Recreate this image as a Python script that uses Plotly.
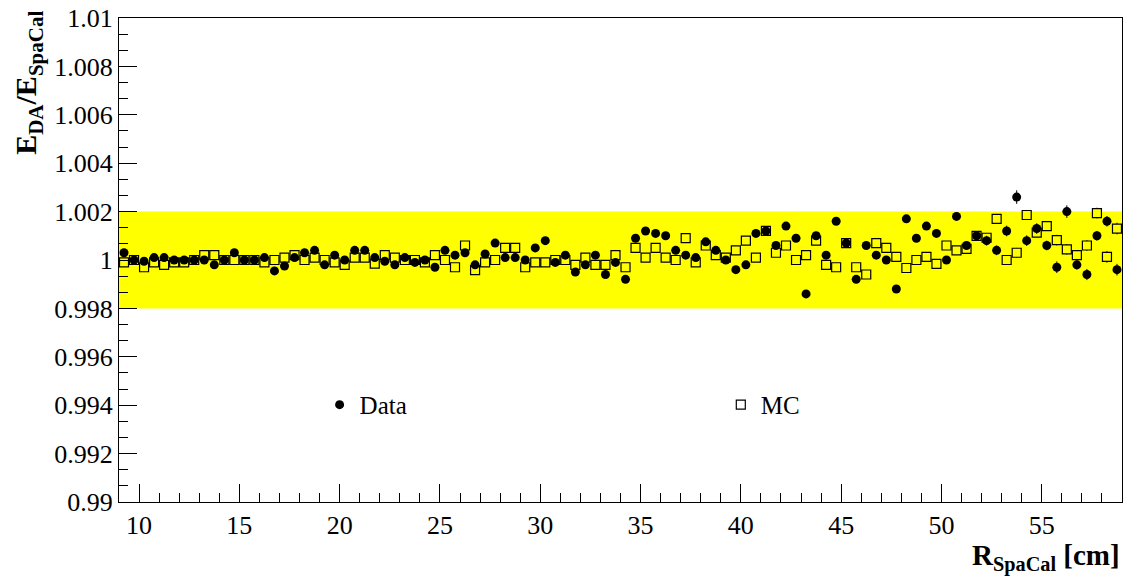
import plotly.graph_objects as go

# ---------------- data ----------------
r_centers = [9.25 + 0.5 * i for i in range(100)]  # bin centres [cm], 0.5 cm bins from 9 to 59

data_ratio = [
    1.0003, 1.0000, 0.99995, 1.0001, 1.0001, 1.0000, 1.0000, 1.0000, 1.0000, 0.9998,
    1.0000, 1.0003, 1.0000, 1.0000, 1.0001, 0.99955, 0.99975, 1.0001, 1.0003, 1.0004,
    0.9998, 1.0002, 1.0000, 1.0004, 1.0004, 1.0001, 0.99995, 0.9998, 1.0001, 0.9999,
    1.0000, 0.9997, 1.0004, 1.0002, 1.0003, 0.9998, 1.00025, 1.0007, 1.0001, 1.0001,
    1.0000, 1.0005, 1.0008, 0.9999, 1.0002, 0.9995, 0.9998, 1.0002, 0.9994, 0.9999,
    0.9992, 1.0009, 1.0012, 1.0011, 1.0010, 1.0004, 1.0002, 1.0001, 1.00075, 1.0004,
    1.0000, 0.9996, 0.9998, 1.0011, 1.0012, 1.0006, 1.0014, 1.0009, 0.9986, 1.0010,
    1.0002, 1.0016, 1.0007, 0.9992, 1.0006, 1.0002, 1.0000, 0.9988, 1.0017, 1.0009,
    1.0014, 1.0011, 1.0000, 1.0018, 1.0006, 1.0010, 1.0008, 1.0004, 1.0012, 1.0026,
    1.0008, 1.0013, 1.0006, 0.9997, 1.0020, 0.9998, 0.9994, 1.0010, 1.0016, 0.9996,
]

mc_ratio = [
    0.9999, 1.0000, 0.9997, 0.9999, 0.9998, 0.9999, 0.9999, 1.0000, 1.0002, 1.0002,
    1.0000, 1.0000, 1.0000, 1.0000, 0.9999, 1.0000, 1.0001, 1.0002, 1.0000, 1.0001,
    1.0000, 0.9999, 0.9998, 1.0001, 1.0001, 0.99985, 1.0002, 1.0001, 1.0000, 1.0000,
    0.9999, 1.0002, 1.0000, 0.9997, 1.0006, 0.99958, 0.9999, 1.0000, 1.0005, 1.0005,
    0.9997, 0.9999, 0.9999, 1.0000, 1.0000, 0.9998, 1.0001, 0.9998, 0.9998, 1.0002,
    0.9997, 1.0005, 1.0001, 1.0005, 1.0001, 1.0000, 1.0009, 0.9999, 1.0006, 1.0002,
    1.0001, 1.0004, 1.0008, 1.0001, 1.0012, 1.0003, 1.0006, 1.0000, 1.0002, 1.0008,
    0.9998, 0.9997, 1.0007, 0.9997, 0.9994, 1.0007, 1.0005, 1.00013, 0.99967, 1.0000,
    1.00013, 0.99984, 1.0006, 1.0004, 1.00046, 1.0010, 1.00092, 1.0017, 1.0000, 1.0003,
    1.00186, 1.00113, 1.0014, 1.00082, 1.00044, 1.0002, 1.0006, 1.00194, 1.00013, 1.0013,
]

data_err = ([0.00006] * 50 + [0.00010] * 20 + [0.00015] * 15 +
            [0.00018, 0.00020, 0.00020, 0.00022, 0.00028, 0.00022, 0.00022, 0.00020,
             0.00024, 0.00026, 0.00020, 0.00023, 0.00020, 0.00022, 0.00024])
mc_err = ([0.00005] * 50 + [0.00008] * 20 + [0.00012] * 15 +
          [0.00015, 0.00016, 0.00018, 0.00018, 0.00020, 0.00020, 0.00020, 0.00020,
           0.00022, 0.00022, 0.00020, 0.00022, 0.00022, 0.00024, 0.00024])

band_low, band_high = 0.998, 1.002
x_range = [9, 59]
y_range = [0.99, 1.01]
x_tickvals = [10, 15, 20, 25, 30, 35, 40, 45, 50, 55]
x_ticklabels = ["10", "15", "20", "25", "30", "35", "40", "45", "50", "55"]
y_tickvals = [0.99, 0.992, 0.994, 0.996, 0.998, 1.0, 1.002, 1.004, 1.006, 1.008, 1.01]
y_ticklabels = ["0.99", "0.992", "0.994", "0.996", "0.998", "1",
                "1.002", "1.004", "1.006", "1.008", "1.01"]

FONT = "Liberation Serif"
BAND = "#ffff00"

fig = go.Figure()

# Yellow +-0.2% band
fig.add_shape(type="rect", xref="x", yref="y",
              x0=x_range[0], x1=x_range[1], y0=band_low, y1=band_high,
              fillcolor=BAND, line=dict(width=0), layer="below")

# MC error bars, masked inside the marker by a band-coloured square
fig.add_trace(go.Scatter(
    x=r_centers, y=mc_ratio, mode="markers", showlegend=False, hoverinfo="skip",
    marker=dict(symbol="square", size=9, color=BAND, line=dict(width=0)),
    error_y=dict(type="data", array=mc_err, thickness=1, width=0, color="black"),
))
fig.add_trace(go.Scatter(
    x=r_centers, y=data_ratio, mode="markers", name="Data", legend="legend", showlegend=True,
    marker=dict(symbol="circle", size=9, color="black"),
    error_y=dict(type="data", array=data_err, thickness=1, width=0, color="black"),
))
fig.add_trace(go.Scatter(
    x=r_centers, y=mc_ratio, mode="markers", name="MC", legend="legend2", showlegend=True,
    marker=dict(symbol="square-open", size=9, color="black", line=dict(width=1.2, color="black")),
))

axis_common = dict(
    showline=True, linecolor="black", linewidth=1, mirror=True,
    showgrid=False, zeroline=False, ticks="inside", ticklen=18, tickwidth=1,
    tickcolor="black", tickfont=dict(family=FONT, size=26, color="black"),
)

fig.update_xaxes(range=x_range, tickmode="array", tickvals=x_tickvals, ticktext=x_ticklabels,
                 minor=dict(ticks="inside", ticklen=9, dtick=1, tick0=9, tickcolor="black", showgrid=False),
                 **axis_common)
fig.update_yaxes(range=y_range, tickmode="array", tickvals=y_tickvals, ticktext=y_ticklabels,
                 minor=dict(ticks="inside", ticklen=9, dtick=0.002 / 3, tick0=0.99, tickcolor="black", showgrid=False),
                 **axis_common)

legend_common = dict(orientation="v", yanchor="middle", xanchor="left",
                     bgcolor="rgba(0,0,0,0)", borderwidth=0,
                     font=dict(family=FONT, size=25, color="black"))

fig.update_layout(
    width=1123, height=582,
    margin=dict(l=119, r=1, t=18, b=80),
    paper_bgcolor="white", plot_bgcolor="white",
    font=dict(family=FONT, color="black"),
    showlegend=True,
    legend=dict(x=0.200, y=0.2006, **legend_common),
    legend2=dict(x=0.600, y=0.2006, **legend_common),
    annotations=[
        dict(text="E<sub>DA</sub>/E<sub>SpaCal</sub>", xref="paper", yref="paper",
             x=-0.0907, y=1.019, xanchor="center", yanchor="top", textangle=-90,
             showarrow=False, font=dict(family=FONT, size=30, color="black", weight="bold")),
        dict(text="R<sub>SpaCal</sub> [cm]", xref="paper", yref="paper",
             x=1.0, y=-0.073, xanchor="right", yanchor="top",
             showarrow=False, font=dict(family=FONT, size=29, color="black", weight="bold")),
    ],
)

fig.write_html("out.html", config={"displayModeBar": False},
               post_script="document.body.style.margin='0';")
